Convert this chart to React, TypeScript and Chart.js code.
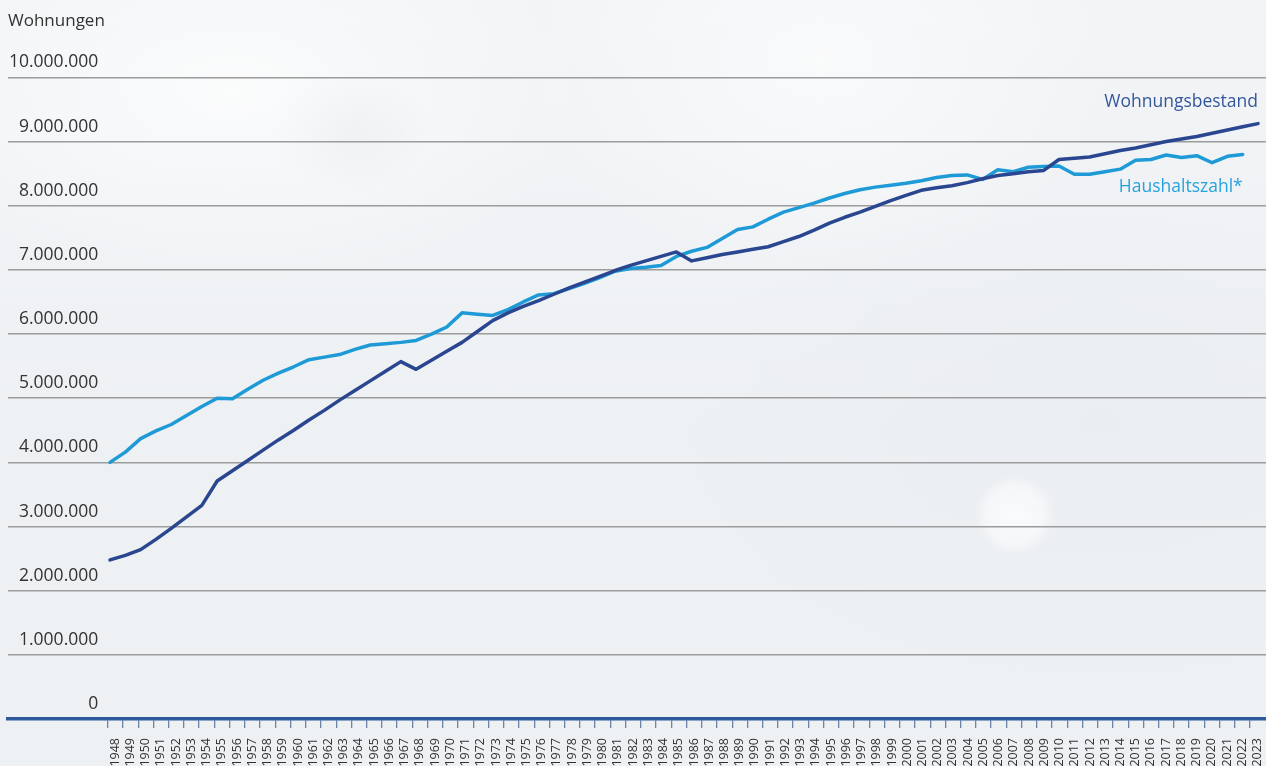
import { useEffect, useRef } from 'react';
import { Chart, registerables } from 'chart.js';

Chart.register(...registerables);

// Jahre der Zeitreihe
const years = [
  1948, 1949, 1950, 1951, 1952, 1953, 1954, 1955, 1956, 1957, 1958, 1959,
  1960, 1961, 1962, 1963, 1964, 1965, 1966, 1967, 1968, 1969, 1970, 1971,
  1972, 1973, 1974, 1975, 1976, 1977, 1978, 1979, 1980, 1981, 1982, 1983,
  1984, 1985, 1986, 1987, 1988, 1989, 1990, 1991, 1992, 1993, 1994, 1995,
  1996, 1997, 1998, 1999, 2000, 2001, 2002, 2003, 2004, 2005, 2006, 2007,
  2008, 2009, 2010, 2011, 2012, 2013, 2014, 2015, 2016, 2017, 2018, 2019,
  2020, 2021, 2022, 2023,
];

// Wohnungsbestand (Anzahl Wohnungen), 1948–2023
const wohnungsbestand = [
  2480000, 2550000, 2640000, 2800000, 2970000, 3150000, 3330000, 3710000,
  3870000, 4030000, 4190000, 4350000, 4500000, 4660000, 4810000, 4970000,
  5120000, 5270000, 5420000, 5570000, 5450000, 5590000, 5730000, 5870000,
  6040000, 6210000, 6330000, 6430000, 6520000, 6620000, 6720000, 6810000,
  6900000, 6990000, 7070000, 7140000, 7210000, 7280000, 7140000, 7190000,
  7240000, 7280000, 7320000, 7360000, 7440000, 7520000, 7620000, 7730000,
  7820000, 7900000, 7990000, 8080000, 8160000, 8240000, 8280000, 8310000,
  8360000, 8420000, 8470000, 8500000, 8530000, 8550000, 8720000, 8740000,
  8760000, 8810000, 8860000, 8900000, 8950000, 9000000, 9040000, 9080000,
  9130000, 9180000, 9230000, 9280000,
];

// Haushaltszahl, 1948–2022 (2023 noch ohne Wert)
const haushaltszahl = [
  4000000, 4160000, 4370000, 4490000, 4590000, 4730000, 4870000, 5000000,
  4990000, 5140000, 5280000, 5390000, 5490000, 5600000, 5640000, 5680000,
  5760000, 5830000, 5850000, 5870000, 5900000, 6000000, 6110000, 6330000,
  6310000, 6290000, 6380000, 6500000, 6610000, 6630000, 6710000, 6790000,
  6880000, 6980000, 7020000, 7040000, 7070000, 7210000, 7290000, 7350000,
  7490000, 7630000, 7670000, 7790000, 7900000, 7970000, 8040000, 8120000,
  8190000, 8250000, 8290000, 8320000, 8350000, 8390000, 8440000, 8470000,
  8480000, 8410000, 8560000, 8530000, 8600000, 8610000, 8620000, 8490000,
  8490000, 8530000, 8570000, 8710000, 8720000, 8790000, 8750000, 8780000,
  8670000, 8770000, 8800000, null,
];

// Skalenwerte der y-Achse
const yTicks = [
  0, 1000000, 2000000, 3000000, 4000000, 5000000, 6000000, 7000000, 8000000,
  9000000, 10000000,
];

const seriesNames = ['Wohnungsbestand', 'Haushaltszahl*'];
const axisTitle = 'Wohnungen';

const DARK = '#2a4690';
const LIGHT = '#1e9ad6';
const FONT = "'Open Sans', 'Noto Sans', sans-serif";

const formatDE = (v: number) =>
  String(Math.round(v)).replace(/\B(?=(\d{3})+(?!\d))/g, '.');

// Beschriftet die Linien am jeweils letzten Datenpunkt
const endLabels = {
  id: 'endLabels',
  afterDatasetsDraw(chart: any) {
    const { ctx } = chart;
    const x = chart.scales.x;
    const y = chart.scales.y;
    const specs = [
      { ds: 0, dy: -22, color: '#34579a' },
      { ds: 1, dy: 33, color: '#27a2dc' },
    ];
    ctx.save();
    ctx.font = `17.5px ${FONT}`;
    ctx.textAlign = 'right';
    ctx.textBaseline = 'middle';
    specs.forEach((s) => {
      const data = chart.data.datasets[s.ds].data as any[];
      let last = data.length - 1;
      while (last > 0 && (data[last] == null || data[last].y == null)) last--;
      const p = data[last];
      ctx.fillStyle = s.color;
      ctx.fillText(
        chart.data.datasets[s.ds].label,
        x.getPixelForValue(p.x),
        y.getPixelForValue(p.y) + s.dy
      );
    });
    ctx.restore();
  },
};

export default function App() {
  const canvasRef = useRef<HTMLCanvasElement | null>(null);

  useEffect(() => {
    if (!canvasRef.current) return;
    const chart = new Chart(canvasRef.current, {
      type: 'line',
      data: {
        datasets: [
          {
            label: seriesNames[0],
            data: years.map((yr, i) => ({ x: yr, y: wohnungsbestand[i] })),
            borderColor: DARK,
            backgroundColor: DARK,
            borderWidth: 3.5,
            pointRadius: 0,
            tension: 0,
            borderJoinStyle: 'round',
            borderCapStyle: 'round',
            xAxisID: 'x',
          },
          {
            label: seriesNames[1],
            data: years
              .map((yr, i) => ({ x: yr, y: haushaltszahl[i] }))
              .filter((p) => p.y != null),
            borderColor: LIGHT,
            backgroundColor: LIGHT,
            borderWidth: 3.5,
            pointRadius: 0,
            tension: 0,
            borderJoinStyle: 'round',
            borderCapStyle: 'round',
            xAxisID: 'x',
          },
        ],
      },
      options: {
        responsive: false,
        animation: false,
        layout: { padding: { left: 8, right: 0, top: 0, bottom: 0 } },
        plugins: {
          legend: { display: false },
          tooltip: { enabled: false },
          title: {
            display: true,
            text: axisTitle,
            align: 'start',
            color: '#333333',
            font: { family: FONT, size: 17, weight: 'normal' },
            padding: { top: 11, bottom: 46 },
          },
        },
        scales: {
          // Datenachse (ohne eigene Darstellung)
          x: {
            type: 'linear',
            display: false,
            min: 1941.336,
            max: 2023.522,
          },
          // Sichtbare Zeitachse mit Jahresstrichen
          x2: {
            type: 'linear',
            position: 'bottom',
            min: 1941.454,
            max: 2024.05,
            afterBuildTicks: (scale: any) => {
              scale.ticks = years.map((v) => ({ value: v }));
            },
            afterFit: (scale: any) => {
              scale.height = 47;
              scale.paddingLeft = 0;
              scale.paddingRight = 0;
            },
            ticks: {
              autoSkip: false,
              minRotation: 90,
              maxRotation: 90,
              labelOffset: 7.5,
              padding: 10,
              color: '#333333',
              font: { family: FONT, size: 12.5 },
              callback: (v: any) => String(v),
            },
            grid: {
              drawOnChartArea: false,
              drawTicks: true,
              tickLength: 9,
              color: '#6d84a6',
              lineWidth: 1.3,
            },
            border: { display: true, color: '#2d5a9b', width: 3.6 },
          },
          y: {
            type: 'linear',
            position: 'left',
            min: 0,
            max: 10000000,
            afterBuildTicks: (scale: any) => {
              scale.ticks = yTicks.map((v) => ({ value: v }));
            },
            afterFit: (scale: any) => {
              scale.width = 0;
              scale.paddingTop = 0;
              scale.paddingBottom = 0;
            },
            ticks: {
              mirror: true,
              crossAlign: 'far',
              padding: 1,
              labelOffset: -15,
              color: '#333333',
              font: { family: FONT, size: 17.5 },
              callback: (v: any) => formatDE(Number(v)),
            },
            grid: {
              drawTicks: false,
              color: (c: any) => (c.tick && c.tick.value === 0 ? 'rgba(0,0,0,0)' : '#9c9c9c'),
              lineWidth: 1.5,
            },
            border: { display: false },
          },
        },
      },
      plugins: [endLabels],
    } as any);
    return () => chart.destroy();
  }, []);

  return (
    <div
      style={{
        position: 'absolute',
        left: 0,
        top: 0,
        width: 1266,
        height: 766,
        overflow: 'hidden',
        background:
          'radial-gradient(circle at 1015px 515px, rgba(255,255,255,0.75) 0px, rgba(255,255,255,0.5) 28px, rgba(255,255,255,0) 40px),' +
          'radial-gradient(ellipse 360px 200px at 230px 90px, rgba(255,255,255,0.7), rgba(255,255,255,0)),' +
          'radial-gradient(ellipse 300px 220px at 820px 60px, rgba(255,255,255,0.6), rgba(255,255,255,0)),' +
          'radial-gradient(ellipse 80px 60px at 350px 130px, rgba(215,220,225,0.5), rgba(215,220,225,0)),' +
          'radial-gradient(ellipse 420px 260px at 1100px 420px, rgba(228,232,237,0.35), rgba(228,232,237,0)),' +
          'linear-gradient(180deg, #f2f4f6 0%, #eef1f4 55%, #eef1f4 100%)',
      }}
    >
      <canvas ref={canvasRef} width={1266} height={766} style={{ display: 'block' }} />
    </div>
  );
}
